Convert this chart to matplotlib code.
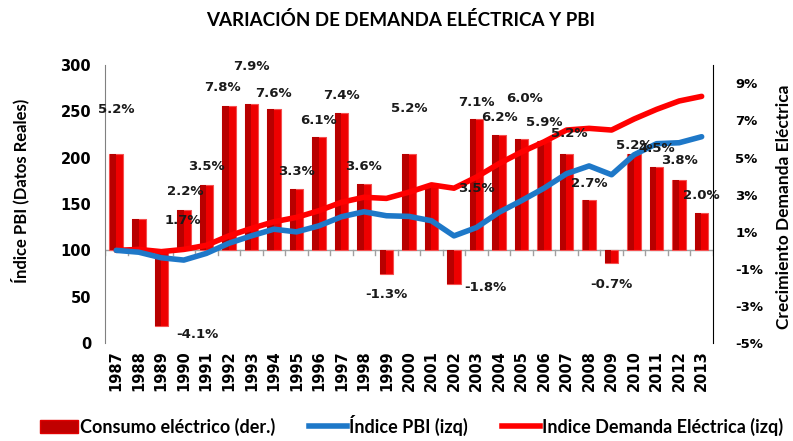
import numpy as np
import matplotlib.pyplot as plt
from matplotlib.patches import Patch
from matplotlib.lines import Line2D
from matplotlib.transforms import blended_transform_factory

years = [str(y) for y in range(1987, 2014)]
consumo = [5.2, 1.7, -4.1, 2.2, 3.5, 7.8, 7.9, 7.6, 3.3, 6.1, 7.4, 3.6, -1.3,
           5.2, 3.5, -1.8, 7.1, 6.2, 6.0, 5.9, 5.2, 2.7, -0.7, 5.2, 4.5, 3.8, 2.0]
indice_pbi = [100, 98, 92, 89.5, 96.7, 107.6, 115.6, 122.8, 119.9, 126.4, 136.2,
              141.6, 137.3, 136.6, 131.9, 115.6, 124.6, 141, 153.6, 167, 182.6,
              191, 181.5, 203, 215, 216, 222.5]
indice_demanda = [100, 101, 98.6, 101, 105.4, 115.6, 123.6, 130.8, 135.5, 142.7,
                  151.8, 157.2, 156, 162.7, 170.6, 167, 179, 193.5, 206, 217,
                  229.7, 231.5, 229.7, 241.6, 252, 261, 266]

# label offsets in pixels (dx, up) relative to bar end, as placed in the original
label_px = [(0, 44), (44, -2), (36, 8), (1, 18), (0, 19), (-6, 18), (0, 37),
            (0, 16), (0, 18), (0, 17), (0, 18), (0, 17), (0, 20), (0, 45),
            (45, -3), (31, 4), (0, 16), (0, 18), (3, 41), (0, 18), (3, 20),
            (0, 17), (0, 21), (0, 8), (0, 18), (0, 19), (0, 18)]

title_font = 'Lato'
num_font = 'DejaVu Sans'

fig = plt.figure(figsize=(7.93, 4.41), dpi=100)
ax2 = fig.add_axes([0.1324, 0.222, 0.7666, 0.631])
ax = ax2.twinx()
ax.yaxis.tick_left()
ax.yaxis.set_label_position('left')
ax2.yaxis.tick_right()
ax2.yaxis.set_label_position('right')
ax.set_zorder(ax2.get_zorder() + 1)
ax.patch.set_visible(False)

x = np.arange(len(years))

# bars on right axis: bright right face, darker left face
ax2.bar(x, consumo, width=0.6, color='#EE0000', edgecolor='#F55050',
        linewidth=0.8, zorder=2)
ax2.bar(x - 0.15, consumo, width=0.28, color='#B80000', linewidth=0, zorder=3)
ax2.set_ylim(-5, 10)
ax2.set_yticks(np.arange(-5, 10, 2))
ax2.set_yticklabels([f'{t}%' for t in range(-5, 10, 2)])

ax.plot(x, indice_demanda, color='#FF0000', lw=4, solid_capstyle='round',
        solid_joinstyle='round')
ax.plot(x, indice_pbi, color='#1E78C8', lw=4, solid_capstyle='round',
        solid_joinstyle='round')
ax.set_ylim(0, 300)
ax.set_yticks(np.arange(0, 301, 50))
ax.set_xlim(-0.5, len(years) - 0.5)

for a in (ax, ax2):
    a.spines['top'].set_visible(False)
    a.spines['bottom'].set_visible(False)
    a.tick_params(axis='y', length=0)
    a.set_xticks([])
ax.spines['left'].set_color('#808080')
ax.spines['right'].set_visible(False)
ax2.spines['left'].set_visible(False)
ax2.spines['right'].set_color('black')
for lbl in ax.get_yticklabels():
    lbl.set_fontweight('bold')
    lbl.set_fontfamily(num_font)
    lbl.set_fontsize(10.5)
for lbl in ax2.get_yticklabels():
    lbl.set_fontweight('bold')
    lbl.set_fontfamily(num_font)
    lbl.set_fontsize(9.5)
ax.tick_params(axis='y', pad=10)
ax2.tick_params(axis='y', pad=16)

# zero line with category separators
ax2.axhline(0, color='#A0A0A0', lw=1, zorder=1)
for b in np.arange(-0.5, len(years), 1.0):
    ax2.plot([b, b], [0, -0.25], color='#A0A0A0', lw=1, zorder=1)

# year labels at the bottom
tr = blended_transform_factory(ax.transData, ax.transAxes)
for i, y in enumerate(years):
    ax.text(i, -0.025, y, transform=tr, rotation=90, ha='center', va='top',
            fontsize=10.5, fontweight='bold', family=num_font)

# data labels
for i, v in enumerate(consumo):
    dx, up = label_px[i]
    if v < 0:
        up = -up
    ax.annotate(f'{v:.1f}%', xy=(i, v), xycoords=ax2.transData,
                xytext=(dx * 0.72, up * 0.72), textcoords='offset points',
                ha='center', va='center', fontsize=9.5, fontweight='bold',
                family=num_font, color='#1A1A1A', zorder=10)

ax.set_ylabel('Índice PBI (Datos Reales)', fontsize=12, fontweight='bold',
              family=title_font)
ax.yaxis.set_label_coords(-0.124, 0.547)
ax2.set_ylabel('Crecimiento Demanda Eléctrica', fontsize=12.5,
               fontweight='bold', family=title_font)
ax2.yaxis.set_label_coords(1.103, 0.489)

fig.text(0.505, 0.955, 'VARIACIÓN DE DEMANDA ELÉCTRICA Y PBI', ha='center',
         va='center', fontsize=13.5, fontweight='bold', family=title_font)

handles = [Patch(facecolor='#C00000', edgecolor='#E00000'),
           Line2D([], [], color='#1E78C8', lw=4),
           Line2D([], [], color='#FF0000', lw=4)]
names = ['Consumo eléctrico (der.)', 'Índice PBI (izq)',
         'Indice Demanda Eléctrica (izq)']
fig.legend(handles, names, loc='center', bbox_to_anchor=(0.519, 0.036), ncol=3,
           frameon=False, handlelength=2.1, handletextpad=0.1,
           columnspacing=1.9, prop={'family': title_font, 'weight': 'bold',
                                    'size': 13})

fig.savefig('out.png', dpi=100)
